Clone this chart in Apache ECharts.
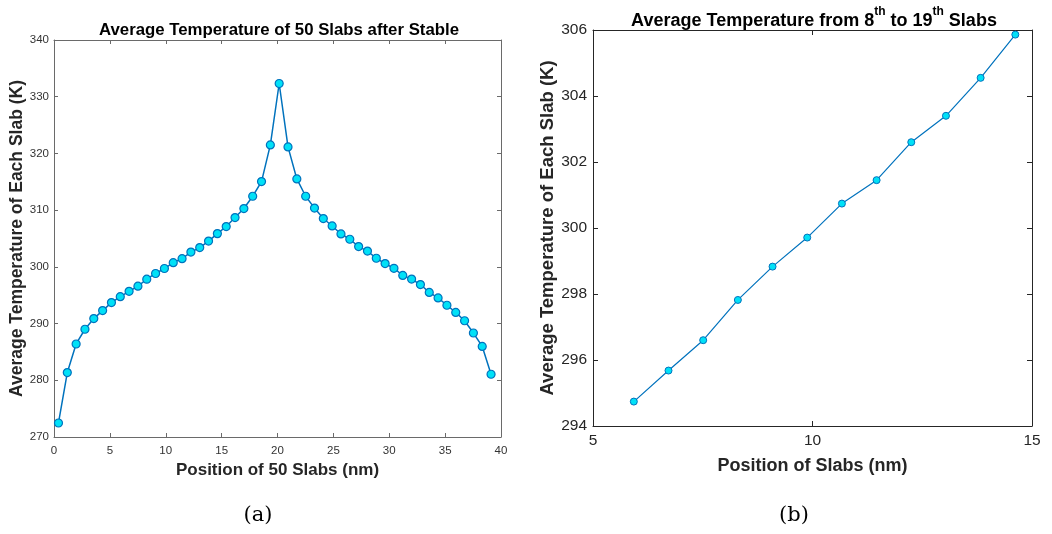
<!DOCTYPE html>
<html>
<head>
<meta charset="utf-8">
<script src="https://cdn.jsdelivr.net/npm/echarts@6/dist/echarts.min.js"></script>
<style>
html,body{margin:0;padding:0;background:#fff;}
#c{width:1052px;height:534px;}
</style>
</head>
<body>
<div id="c"></div>
<script>
// Slab positions (nm) for the 50 slabs
const positions = [0.40, 1.19, 1.98, 2.77, 3.56, 4.35, 5.14, 5.93, 6.72, 7.51,
  8.30, 9.09, 9.88, 10.67, 11.46, 12.25, 13.04, 13.83, 14.62, 15.41,
  16.20, 16.99, 17.78, 18.57, 19.36, 20.15, 20.94, 21.73, 22.52, 23.31,
  24.10, 24.89, 25.68, 26.47, 27.26, 28.05, 28.84, 29.63, 30.42, 31.21,
  32.00, 32.79, 33.58, 34.37, 35.16, 35.95, 36.74, 37.53, 38.32, 39.11];
// Average temperature (K) of each slab
const temperatures = [272.47, 281.36, 286.40, 289.00, 290.88, 292.29, 293.70, 294.74, 295.68, 296.60,
  297.82, 298.83, 299.71, 300.74, 301.45, 302.60, 303.40, 304.55, 305.86, 307.11,
  308.69, 310.28, 312.45, 315.04, 321.50, 332.33, 321.15, 315.50, 312.45, 310.36,
  308.52, 307.21, 305.80, 304.87, 303.57, 302.78, 301.52, 300.58, 299.75, 298.49,
  297.84, 296.88, 295.50, 294.52, 293.23, 291.97, 290.50, 288.34, 285.97, 281.06];
// 8th to 19th slabs (1-based)
const firstSlab = 8;
const lastSlab = 19;

const leftTitle = 'Average Temperature of 50 Slabs after Stable';
const leftXName = 'Position of 50 Slabs (nm)';
const yName = 'Average Temperature of Each Slab (K)';
const rightXName = 'Position of Slabs (nm)';

const leftData = positions.map((x, i) => [x, temperatures[i]]);
const rightData = leftData.slice(firstSlab - 1, lastSlab);

const FONT = 'Liberation Sans, Arial, Helvetica, sans-serif';
const lineCol = '#0072BD';
const faceCol = '#00E1F7';

const leftAxisCol = '#6a6a6a';
const rightAxisCol = '#262626';

const chart = echarts.init(document.getElementById('c'), null, {renderer: 'canvas'});
chart.setOption({
  animation: false,
  backgroundColor: '#ffffff',
  title: [
    {text: leftTitle, left: 274, top: 17, textAlign: 'center',
      textStyle: {fontFamily: FONT, fontWeight: 'bold', fontSize: 16.8, color: '#000'}},
    {text: '{t|Average Temperature from 8}{s|th}{t| to 19}{s|th}{t| Slabs}',
      left: 809, top: 1, textAlign: 'center',
      textStyle: {rich: {
        t: {fontFamily: FONT, fontWeight: 'bold', fontSize: 18, color: '#000', lineHeight: 24, verticalAlign: 'bottom'},
        s: {fontFamily: FONT, fontWeight: 'bold', fontSize: 12, color: '#000', lineHeight: 24, verticalAlign: 'top'}
      }}},
    {text: '(a)', left: 253, top: 500, textAlign: 'center',
      textStyle: {fontFamily: 'DejaVu Serif, Liberation Serif, serif', fontWeight: 'normal', fontSize: 21, color: '#000'}},
    {text: '(b)', left: 789, top: 500, textAlign: 'center',
      textStyle: {fontFamily: 'DejaVu Serif, Liberation Serif, serif', fontWeight: 'normal', fontSize: 21, color: '#000'}}
  ],
  grid: [
    {left: 54, top: 40, width: 447, height: 397, containLabel: false},
    {left: 593, top: 30, width: 439, height: 396, containLabel: false}
  ],
  xAxis: [
    {type: 'value', gridIndex: 0, min: 0, max: 40, interval: 5, position: 'bottom',
      name: leftXName, nameLocation: 'middle', nameGap: 22,
      nameTextStyle: {fontFamily: FONT, fontWeight: 'bold', fontSize: 17, color: '#262626'},
      axisLine: {show: true, onZero: false, lineStyle: {color: leftAxisCol, width: 1}},
      axisTick: {show: true, inside: true, length: 4, lineStyle: {color: leftAxisCol}},
      axisLabel: {fontFamily: FONT, fontSize: 11.5, color: '#333', margin: 8},
      splitLine: {show: false}},
    {type: 'value', gridIndex: 0, min: 0, max: 40, interval: 5, position: 'top',
      axisLine: {show: true, onZero: false, lineStyle: {color: leftAxisCol, width: 1}},
      axisTick: {show: true, inside: true, length: 4, lineStyle: {color: leftAxisCol}},
      axisLabel: {show: false}, splitLine: {show: false}},
    {type: 'value', gridIndex: 1, min: 5, max: 15, interval: 5, position: 'bottom',
      name: rightXName, nameLocation: 'middle', nameGap: 31,
      nameTextStyle: {fontFamily: FONT, fontWeight: 'bold', fontSize: 18, color: '#262626'},
      axisLine: {show: true, onZero: false, lineStyle: {color: rightAxisCol, width: 1}},
      axisTick: {show: true, inside: true, length: 5, lineStyle: {color: rightAxisCol}},
      axisLabel: {fontFamily: FONT, fontSize: 15.5, color: '#262626', margin: 7},
      splitLine: {show: false}},
    {type: 'value', gridIndex: 1, min: 5, max: 15, interval: 5, position: 'top',
      axisLine: {show: true, onZero: false, lineStyle: {color: rightAxisCol, width: 1}},
      axisTick: {show: true, inside: true, length: 5, lineStyle: {color: rightAxisCol}},
      axisLabel: {show: false}, splitLine: {show: false}}
  ],
  yAxis: [
    {type: 'value', gridIndex: 0, min: 270, max: 340, interval: 10, position: 'left',
      name: yName, nameLocation: 'middle', nameGap: 28,
      nameTextStyle: {fontFamily: FONT, fontWeight: 'bold', fontSize: 17.5, color: '#262626'},
      axisLine: {show: true, onZero: false, lineStyle: {color: leftAxisCol, width: 1}},
      axisTick: {show: true, inside: true, length: 4, lineStyle: {color: leftAxisCol}},
      axisLabel: {fontFamily: FONT, fontSize: 11.5, color: '#333', margin: 5},
      splitLine: {show: false}},
    {type: 'value', gridIndex: 0, min: 270, max: 340, interval: 10, position: 'right',
      axisLine: {show: true, onZero: false, lineStyle: {color: leftAxisCol, width: 1}},
      axisTick: {show: true, inside: true, length: 4, lineStyle: {color: leftAxisCol}},
      axisLabel: {show: false}, splitLine: {show: false}},
    {type: 'value', gridIndex: 1, min: 294, max: 306, interval: 2, position: 'left',
      name: yName, nameLocation: 'middle', nameGap: 36,
      nameTextStyle: {fontFamily: FONT, fontWeight: 'bold', fontSize: 18.5, color: '#262626'},
      axisLine: {show: true, onZero: false, lineStyle: {color: rightAxisCol, width: 1}},
      axisTick: {show: true, inside: true, length: 5, lineStyle: {color: rightAxisCol}},
      axisLabel: {fontFamily: FONT, fontSize: 15.5, color: '#262626', margin: 6},
      splitLine: {show: false}},
    {type: 'value', gridIndex: 1, min: 294, max: 306, interval: 2, position: 'right',
      axisLine: {show: true, onZero: false, lineStyle: {color: rightAxisCol, width: 1}},
      axisTick: {show: true, inside: true, length: 5, lineStyle: {color: rightAxisCol}},
      axisLabel: {show: false}, splitLine: {show: false}}
  ],
  series: [
    {type: 'line', xAxisIndex: 0, yAxisIndex: 0, data: leftData,
      symbol: 'circle', symbolSize: 8, showSymbol: true,
      lineStyle: {color: lineCol, width: 1.5},
      itemStyle: {color: faceCol, borderColor: lineCol, borderWidth: 1.2},
      z: 3},
    {type: 'line', xAxisIndex: 2, yAxisIndex: 2, data: rightData,
      symbol: 'circle', symbolSize: 7, showSymbol: true,
      lineStyle: {color: lineCol, width: 1.2},
      itemStyle: {color: faceCol, borderColor: lineCol, borderWidth: 1},
      z: 3}
  ]
});
</script>
</body>
</html>
